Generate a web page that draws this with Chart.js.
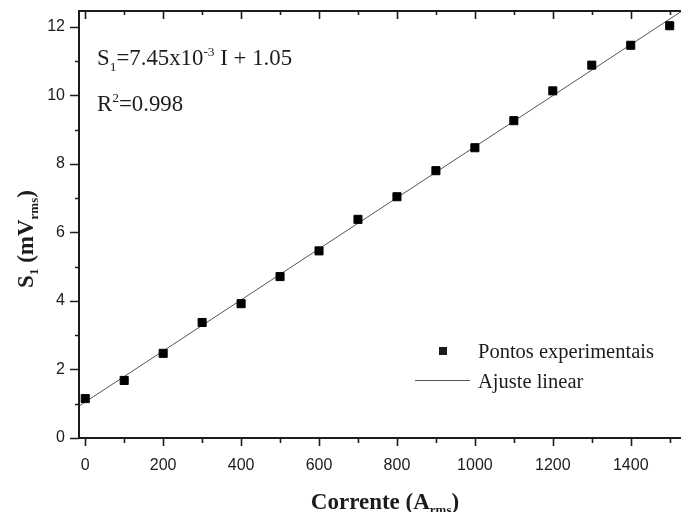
<!DOCTYPE html>
<html>
<head>
<meta charset="utf-8">
<script src="https://cdn.jsdelivr.net/npm/chart.js@4/dist/chart.umd.min.js"></script>
<style>
  html, body { margin: 0; padding: 0; background: #fff; overflow: hidden; }
  canvas { display: block; }
</style>
</head>
<body>
<canvas id="c" width="681" height="512"></canvas>
<script>
// Measured sensor output S1 versus primary current
const currentA = [0, 100, 200, 300, 400, 500, 600, 700, 800, 900, 1000, 1100, 1200, 1300, 1400, 1500];
const signalS1 = [1.15, 1.68, 2.47, 3.37, 3.92, 4.71, 5.46, 6.38, 7.04, 7.80, 8.47, 9.26, 10.13, 10.88, 11.46, 12.03];

// Linear fit coefficients (S1 = slope * I + intercept)
const fitSlope = 7.45e-3;
const fitIntercept = 1.05;
const fitR2 = '0.998';

// Axis ranges and labelled ticks
const xRange = [-16, 1529];
const yRange = [0, 12.46];
const xTickLabels = [0, 200, 400, 600, 800, 1000, 1200, 1400];
const yTickLabels = [0, 2, 4, 6, 8, 10, 12];
const xMinorTicks = [0, 100, 200, 300, 400, 500, 600, 700, 800, 900, 1000, 1100, 1200, 1300, 1400, 1500];
const yMinorTicks = [0, 1, 2, 3, 4, 5, 6, 7, 8, 9, 10, 11, 12];

const legendLabels = ['Pontos experimentais', 'Ajuste linear'];

const SERIF = '"Liberation Serif", "Times New Roman", serif';
const SANS = '"Liberation Sans", Arial, sans-serif';
const INK = '#1c1c1c';

const points = currentA.map((x, i) => ({ x: x, y: signalS1[i] }));
const fitLine = xRange.map(x => ({ x: x, y: fitIntercept + fitSlope * x }));

function drawRich(ctx, parts, x, y) {
  let cx = x;
  for (const p of parts) {
    ctx.font = p.font;
    ctx.fillText(p.t, cx, y + (p.dy || 0));
    cx += ctx.measureText(p.t).width;
  }
}
function richWidth(ctx, parts) {
  let w = 0;
  for (const p of parts) { ctx.font = p.font; w += ctx.measureText(p.t).width; }
  return w;
}

const framePlugin = {
  id: 'frame',
  afterDraw(chart) {
    const ctx = chart.ctx;
    const a = chart.chartArea;
    const xs = chart.scales.x, ys = chart.scales.y;
    ctx.save();
    ctx.strokeStyle = INK;
    ctx.fillStyle = INK;

    // axis lines: left, bottom, top
    ctx.lineWidth = 2;
    ctx.beginPath();
    ctx.moveTo(a.left, a.top); ctx.lineTo(a.left, a.bottom);
    ctx.moveTo(a.left - 1, a.bottom); ctx.lineTo(a.right, a.bottom);
    ctx.moveTo(a.left - 1, a.top); ctx.lineTo(a.right, a.top);
    ctx.stroke();

    // tick marks
    ctx.lineWidth = 1.6;
    ctx.beginPath();
    for (const v of xMinorTicks) {
      const px = Math.round(xs.getPixelForValue(v)) + 0.5;
      const major = xTickLabels.includes(v);
      ctx.moveTo(px, a.bottom); ctx.lineTo(px, a.bottom + (major ? 8 : 5));
      ctx.moveTo(px, a.top); ctx.lineTo(px, a.top + (major ? 8 : 4));
    }
    for (const v of yMinorTicks) {
      const py = Math.round(ys.getPixelForValue(v)) + 0.5;
      const major = yTickLabels.includes(v);
      ctx.moveTo(a.left, py); ctx.lineTo(a.left - (major ? 9 : 4), py);
    }
    ctx.stroke();

    // axis titles
    const tb = 'bold 23px ' + SERIF;
    const ts = 'bold 13px ' + SERIF;
    const xTitle = [
      { t: 'Corrente (A', font: tb },
      { t: 'rms', font: ts, dy: 5 },
      { t: ')', font: tb }
    ];
    ctx.textBaseline = 'alphabetic';
    const xw = richWidth(ctx, xTitle);
    drawRich(ctx, xTitle, 385 - xw / 2, 509);

    const yTitle = [
      { t: 'S', font: tb },
      { t: '1', font: ts, dy: 5 },
      { t: ' (mV', font: tb },
      { t: 'rms', font: ts, dy: 5 },
      { t: ')', font: tb }
    ];
    const yw = richWidth(ctx, yTitle);
    ctx.save();
    ctx.translate(33, 239);
    ctx.rotate(-Math.PI / 2);
    drawRich(ctx, yTitle, -yw / 2, 0);
    ctx.restore();

    // fit equation
    const rf = '22.8px ' + SERIF;
    const rs = '13.5px ' + SERIF;
    drawRich(ctx, [
      { t: 'S', font: rf },
      { t: '1', font: rs, dy: 6 },
      { t: '=7.45x10', font: rf },
      { t: '-3', font: rs, dy: -9 },
      { t: ' I + 1.05', font: rf }
    ], 97, 65);
    drawRich(ctx, [
      { t: 'R', font: rf },
      { t: '2', font: rs, dy: -9 },
      { t: '=' + fitR2, font: rf }
    ], 97, 111);

    // legend
    ctx.fillRect(439, 347, 8, 8);
    ctx.strokeStyle = '#555';
    ctx.lineWidth = 1;
    ctx.beginPath();
    ctx.moveTo(415, 380.5); ctx.lineTo(470, 380.5);
    ctx.stroke();
    ctx.font = '20.5px ' + SERIF;
    ctx.fillText(legendLabels[0], 478, 358);
    ctx.fillText(legendLabels[1], 478, 388);

    ctx.restore();
  }
};

function noEdgePadding(s) {
  s.paddingLeft = 0; s.paddingRight = 0; s.paddingTop = 0; s.paddingBottom = 0;
}

new Chart(document.getElementById('c'), {
  type: 'scatter',
  data: {
    datasets: [
      {
        label: legendLabels[0],
        data: points,
        pointStyle: 'rect',
        pointRadius: 5.7,
        pointBackgroundColor: '#000',
        pointBorderColor: '#000',
        pointBorderWidth: 1,
        showLine: false,
        clip: false
      },
      {
        label: legendLabels[1],
        data: fitLine,
        showLine: true,
        borderColor: '#555',
        borderWidth: 1,
        pointRadius: 0
      }
    ]
  },
  options: {
    responsive: false,
    animation: false,
    devicePixelRatio: 1,
    layout: { autoPadding: false, padding: { top: 11, right: 0, bottom: 0, left: 0 } },
    plugins: { legend: { display: false }, tooltip: { enabled: false } },
    scales: {
      x: {
        type: 'linear',
        min: xRange[0],
        max: xRange[1],
        afterFit(s) { s.height = 74; noEdgePadding(s); },
        afterBuildTicks(s) { s.ticks = xTickLabels.map(v => ({ value: v })); },
        grid: { display: false, drawTicks: false },
        border: { display: false },
        ticks: { padding: 18, color: INK, font: { family: SANS, size: 16 }, maxRotation: 0, autoSkip: false,
                 callback: v => String(v) }
      },
      y: {
        type: 'linear',
        min: yRange[0],
        max: yRange[1],
        afterFit(s) { s.width = 79; noEdgePadding(s); },
        afterBuildTicks(s) { s.ticks = yTickLabels.map(v => ({ value: v })); },
        grid: { display: false, drawTicks: false },
        border: { display: false },
        ticks: { padding: 14, color: INK, font: { family: SANS, size: 16 }, autoSkip: false,
                 callback: v => String(v) }
      }
    }
  },
  plugins: [framePlugin]
});
</script>
</body>
</html>
